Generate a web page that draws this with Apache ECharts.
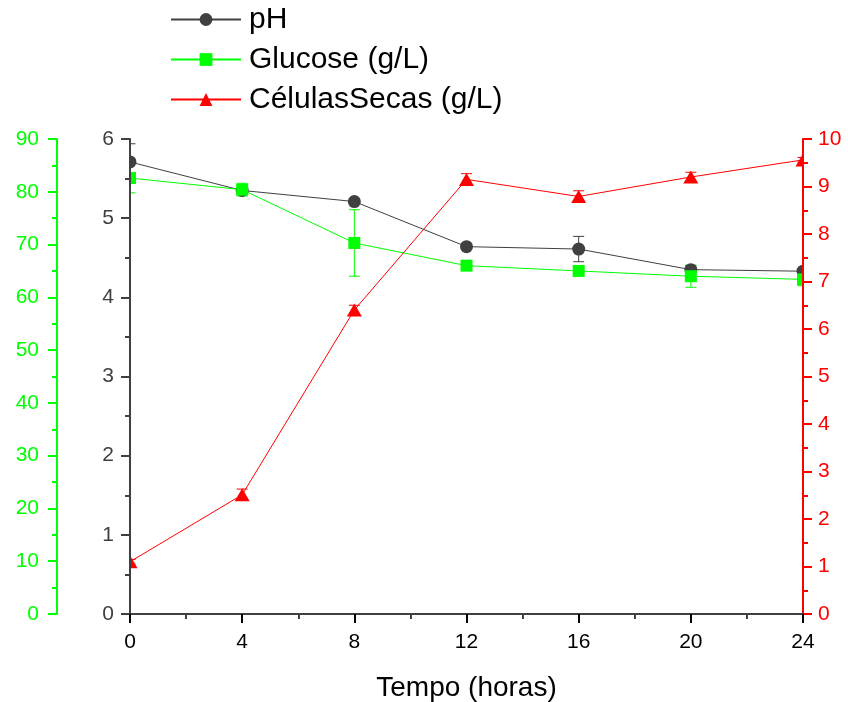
<!DOCTYPE html>
<html>
<head>
<meta charset="utf-8">
<script src="https://cdn.jsdelivr.net/npm/echarts@6/dist/echarts.min.js"></script>
<style>
  html, body { margin: 0; padding: 0; background: #fff; }
  #chart { width: 848px; height: 702px; }
</style>
</head>
<body>
<div id="chart"></div>
<script>
// Sampling times (hours)
const hours = [0, 4, 8, 12, 16, 20, 24];

// pH
const phValues = [5.71, 5.35, 5.21, 4.64, 4.61, 4.35, 4.33];
const phErr    = [0.23, 0.04, 0.03, 0.03, 0.16, 0.05, 0.03];

// Glucose (g/L)
const glucoseValues = [82.6, 80.4, 70.3, 66.0, 65.0, 64.0, 63.4];
const glucoseErr    = [2.8, 1.2, 6.3, 0.6, 0.8, 2.1, 1.2];

// Dry cell mass (g/L)
const cellValues = [1.10, 2.51, 6.40, 9.15, 8.79, 9.20, 9.56];
const cellErr    = [0.05, 0.12, 0.10, 0.12, 0.12, 0.10, 0.05];

const names = ['pH', 'Glucose (g/L)', 'CélulasSecas (g/L)'];
const FONT = "'Liberation Sans', Arial, sans-serif";
const GREY = '#404040';
const GREEN = '#00ff00';
const RED = '#ff0000';

function pairs(xs, ys) { return xs.map((x, i) => [x, ys[i]]); }
function errRows(xs, ys, es) { return xs.map((x, i) => [x, ys[i] - es[i], ys[i] + es[i]]); }

// Vertical error bar with caps
function errorBar(color) {
  return function (params, api) {
    const x = api.value(0);
    const lo = api.coord([x, api.value(1)]);
    const hi = api.coord([x, api.value(2)]);
    const hw = 5.5;
    const style = { stroke: color, lineWidth: 1 };
    return {
      type: 'group',
      children: [
        { type: 'line', shape: { x1: lo[0], y1: lo[1], x2: hi[0], y2: hi[1] }, style },
        { type: 'line', shape: { x1: lo[0] - hw, y1: lo[1], x2: lo[0] + hw, y2: lo[1] }, style },
        { type: 'line', shape: { x1: hi[0] - hw, y1: hi[1], x2: hi[0] + hw, y2: hi[1] }, style }
      ]
    };
  };
}

function valueAxis(opts) {
  return Object.assign({
    type: 'value',
    splitLine: { show: false },
    axisLine: { show: true, lineStyle: { color: opts.color, width: 2 } },
    axisTick: { show: true, length: 9, lineStyle: { color: opts.color, width: 2 } },
    minorTick: { show: true, splitNumber: 2, length: 5, lineStyle: { color: opts.color, width: 2 } },
    axisLabel: { color: opts.color, fontSize: 21, fontFamily: FONT, margin: opts.margin }
  }, opts.extra);
}

const chart = echarts.init(document.getElementById('chart'), null, { renderer: 'canvas' });

chart.setOption({
  backgroundColor: '#fff',
  animation: false,
  grid: { left: 130, right: 45, top: 139, bottom: 88, containLabel: false, outerBoundsMode: 'none' },
  legend: {
    orient: 'vertical',
    left: 170,
    top: 4,
    padding: 0,
    itemWidth: 70,
    itemHeight: 16,
    itemGap: 9,
    textStyle: { fontSize: 30, fontFamily: FONT, color: '#000', lineHeight: 31, padding: [0, 0, 0, 3] },
    data: names
  },
  xAxis: {
    type: 'value',
    min: 0, max: 24, interval: 4,
    name: 'Tempo (horas)',
    nameLocation: 'middle',
    nameGap: 60,
    nameTextStyle: { fontSize: 28, fontFamily: FONT, color: '#000' },
    splitLine: { show: false },
    axisLine: { onZero: false, lineStyle: { color: GREY, width: 2 } },
    axisTick: { length: 9, lineStyle: { color: '#000', width: 2 } },
    minorTick: { show: true, splitNumber: 2, length: 5, lineStyle: { color: GREY, width: 2 } },
    axisLabel: { color: '#000', fontSize: 21, fontFamily: FONT, margin: 18 },
    z: 10
  },
  yAxis: [
    valueAxis({ color: GREY, margin: 16, extra: { min: 0, max: 6, interval: 1, position: 'left', z: 10 } }),
    valueAxis({ color: GREEN, margin: 18, extra: { min: 0, max: 90, interval: 10, position: 'left', offset: 73, z: 10 } }),
    valueAxis({ color: RED, margin: 15, extra: { min: 0, max: 10, interval: 1, position: 'right', z: 10 } })
  ],
  graphic: [
    // trims marker halves that fall outside the plotting area
    { type: 'rect', shape: { x: 117, y: 130, width: 12, height: 480 }, style: { fill: '#fff' }, z: 5 },
    { type: 'rect', shape: { x: 804, y: 130, width: 10, height: 480 }, style: { fill: '#fff' }, z: 5 }
  ],
  series: [
    {
      name: 'pH error', type: 'custom', yAxisIndex: 0, z: 2,
      renderItem: errorBar(GREY), data: errRows(hours, phValues, phErr), silent: true
    },
    {
      name: names[0], type: 'line', yAxisIndex: 0, z: 3,
      data: pairs(hours, phValues),
      symbol: 'circle', symbolSize: 13,
      lineStyle: { color: GREY, width: 1 },
      itemStyle: { color: GREY }
    },
    {
      name: 'glucose error', type: 'custom', yAxisIndex: 1, z: 2,
      renderItem: errorBar(GREEN), data: errRows(hours, glucoseValues, glucoseErr), silent: true
    },
    {
      name: names[1], type: 'line', yAxisIndex: 1, z: 3,
      data: pairs(hours, glucoseValues),
      symbol: 'rect', symbolSize: 12,
      lineStyle: { color: GREEN, width: 1 },
      itemStyle: { color: GREEN }
    },
    {
      name: 'cells error', type: 'custom', yAxisIndex: 2, z: 2,
      renderItem: errorBar(RED), data: errRows(hours, cellValues, cellErr), silent: true
    },
    {
      name: names[2], type: 'line', yAxisIndex: 2, z: 3,
      data: pairs(hours, cellValues),
      symbol: 'triangle', symbolSize: [15, 13],
      lineStyle: { color: RED, width: 1 },
      itemStyle: { color: RED }
    }
  ]
});
</script>
</body>
</html>
